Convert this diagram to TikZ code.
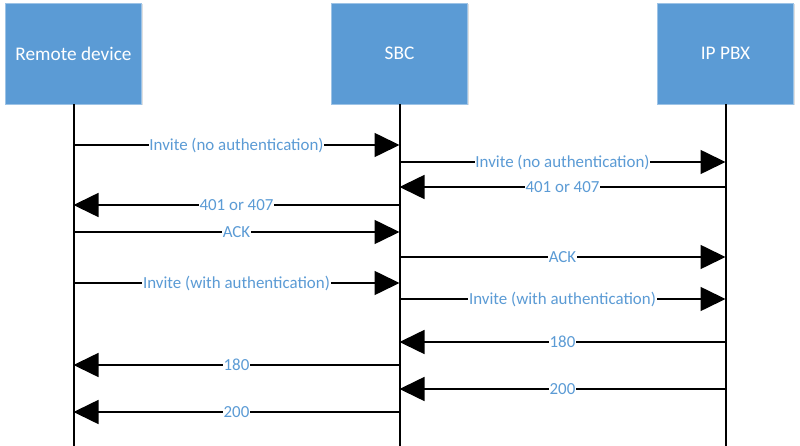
\documentclass[tikz,border=0pt]{standalone}
\usepackage{fontspec}
\setmainfont{Carlito}
\usetikzlibrary{arrows.meta,shadows}
\definecolor{boxblue}{HTML}{5B9BD5}
\begin{document}
\begin{tikzpicture}[x=1pt,y=-1pt,
  actor/.style={fill=boxblue, draw=boxblue!60!white, line width=0.8pt,
    minimum width=136pt, minimum height=101pt, inner sep=0pt,
    text=white, font=\fontsize{19.3}{23}\selectfont,
    drop shadow={shadow xshift=1.5pt, shadow yshift=-1.5pt, opacity=0.25}},
  lifeline/.style={line width=2pt, black},
  msg/.style={line width=1.6pt, black, -{Triangle[length=25pt,width=24pt]}},
  lbl/.style={fill=white, text=boxblue, inner sep=0.8pt, font=\fontsize{16.9}{20}\selectfont}]
\useasboundingbox (0,0) rectangle (800,446);
\node[actor] (rd) at (73.5,53.5) {Remote device};
\node[actor] (sbc) at (399.5,53.5) {SBC};
\node[actor] (pbx) at (725.5,53.5) {IP PBX};
\coordinate (rdend) at (73,446);
\coordinate (sbcend) at (399,446);
\coordinate (pbxend) at (725,446);
\draw[lifeline] (rd.south) -- (rd.south |- rdend);
\draw[lifeline] (sbc.south) -- (sbc.south |- sbcend);
\draw[lifeline] (pbx.south) -- (pbx.south |- pbxend);
\draw[msg] (rd.south |- 0,145) -- node[lbl]{Invite (no authentication)} (sbc.south |- 0,145);
\draw[msg] (sbc.south |- 0,162) -- node[lbl]{Invite (no authentication)} (pbx.south |- 0,162);
\draw[msg] (pbx.south |- 0,187) -- node[lbl]{401 or 407} (sbc.south |- 0,187);
\draw[msg] (sbc.south |- 0,205) -- node[lbl]{401 or 407} (rd.south |- 0,205);
\draw[msg] (rd.south |- 0,232) -- node[lbl]{ACK} (sbc.south |- 0,232);
\draw[msg] (sbc.south |- 0,257) -- node[lbl]{ACK} (pbx.south |- 0,257);
\draw[msg] (rd.south |- 0,283) -- node[lbl]{Invite (with authentication)} (sbc.south |- 0,283);
\draw[msg] (sbc.south |- 0,299) -- node[lbl]{Invite (with authentication)} (pbx.south |- 0,299);
\draw[msg] (pbx.south |- 0,342) -- node[lbl]{180} (sbc.south |- 0,342);
\draw[msg] (sbc.south |- 0,365) -- node[lbl]{180} (rd.south |- 0,365);
\draw[msg] (pbx.south |- 0,389) -- node[lbl]{200} (sbc.south |- 0,389);
\draw[msg] (sbc.south |- 0,412) -- node[lbl]{200} (rd.south |- 0,412);
\end{tikzpicture}
\end{document}
